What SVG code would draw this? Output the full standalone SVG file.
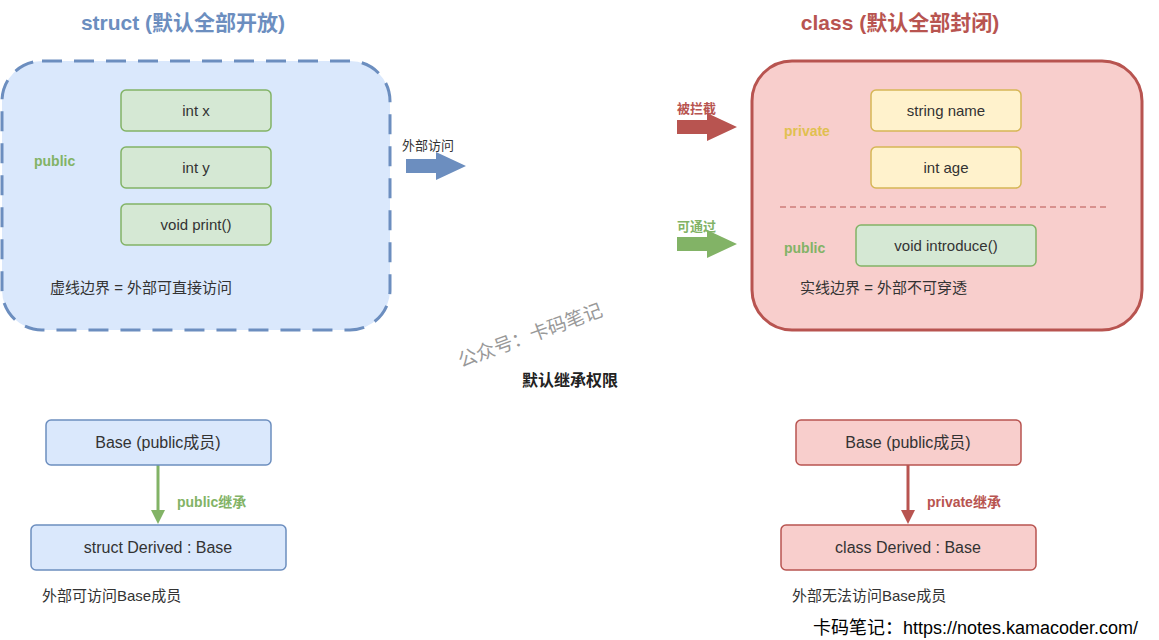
<svg xmlns="http://www.w3.org/2000/svg" width="1159" height="640" viewBox="0 0 1159 640">
<style>
text{font-family:"Liberation Sans","Noto Sans CJK SC",sans-serif;font-size:14px;fill:#333}
.c{text-anchor:middle}
.b{font-weight:bold}
.g{fill:#82b366}.r{fill:#b85450}.y{fill:#e0c050}
.nb{fill:#dae8fc;stroke:#6c8ebf;stroke-width:1.5}
.nr{fill:#f8cecc;stroke:#b85450;stroke-width:1.5}
.ng{fill:#d5e8d4;stroke:#82b366;stroke-width:1.5}
.ny{fill:#fff2cc;stroke:#d6b656;stroke-width:1.5}
.n{font-size:15px}
</style>
<rect width="1159" height="640" fill="#fff"/>
<text class="c b" x="183" y="30" style="font-size:21px;fill:#6c8ebf">struct (默认全部开放)</text>
<text class="c b" x="900" y="30" style="font-size:21px;fill:#b85450">class (默认全部封闭)</text>
<g id="structBox">
<rect x="2" y="61" width="388" height="269" rx="40" fill="#dae8fc" stroke="#6c8ebf" stroke-width="3" stroke-dasharray="20 12"/>
<text class="b g" x="34" y="166">public</text>
<text class="n" x="50" y="293">虚线边界 = 外部可直接访问</text>
</g>
<g id="intx"><rect class="ng" x="121" y="90" width="150" height="41" rx="5"/><text class="c n" x="196" y="116">int x</text></g>
<g id="inty"><rect class="ng" x="121" y="147" width="150" height="41" rx="5"/><text class="c n" x="196" y="173">int y</text></g>
<g id="print"><rect class="ng" x="121" y="204" width="150" height="41" rx="5"/><text class="c n" x="196" y="230">void print()</text></g>
<g id="classBox">
<rect x="752" y="61" width="390" height="269" rx="40" fill="#f8cecc" stroke="#b85450" stroke-width="3"/>
<line x1="780" y1="207" x2="1110" y2="207" stroke="#b85450" stroke-dasharray="6 4"/>
<text class="b y" x="784" y="136">private</text>
<text class="b g" x="784" y="253">public</text>
<text class="n" x="800" y="293">实线边界 = 外部不可穿透</text>
</g>
<g id="name"><rect class="ny" x="871" y="90" width="150" height="41" rx="5"/><text class="c n" x="946" y="116">string name</text></g>
<g id="age"><rect class="ny" x="871" y="147" width="150" height="41" rx="5"/><text class="c n" x="946" y="173">int age</text></g>
<g id="introduce"><rect class="ng" x="856" y="225" width="180" height="41" rx="5"/><text class="c n" x="946" y="251">void introduce()</text></g>
<g id="connectors">
<polygon points="406,159 436,159 436,152 466,166 436,180 436,173 406,173" fill="#6c8ebf"/>
<polygon points="677,120 707,120 707,113 737,127 707,141 707,134 677,134" fill="#b85450"/>
<polygon points="677,237 707,237 707,230 737,244 707,258 707,251 677,251" fill="#82b366"/>
<line x1="158" y1="465" x2="158" y2="512" stroke="#82b366" stroke-width="3"/>
<polygon points="151,510 165,510 158,524" fill="#82b366"/>
<line x1="908" y1="465" x2="908" y2="512" stroke="#b85450" stroke-width="3"/>
<polygon points="901,510 915,510 908,524" fill="#b85450"/>
</g>
<text x="402" y="150" style="font-size:13px">外部访问</text>
<text class="b r" x="677" y="113" style="font-size:13px">被拦截</text>
<text class="b g" x="677" y="231" style="font-size:13px">可通过</text>
<text class="c" x="530" y="342" transform="rotate(-20 530 335)" style="font-size:19px;fill:#999">公众号：卡码笔记</text>
<text class="c b" x="570" y="386" style="font-size:16px;fill:#222">默认继承权限</text>
<g id="baseL"><rect class="nb" x="46" y="420" width="225" height="45" rx="5"/><text class="c" x="158" y="448" style="font-size:16px">Base (public成员)</text></g>
<g id="derivedL"><rect class="nb" x="31" y="525" width="255" height="45" rx="5"/><text class="c" x="158" y="553" style="font-size:16px">struct Derived : Base</text></g>
<g id="baseR"><rect class="nr" x="796" y="420" width="225" height="45" rx="5"/><text class="c" x="908" y="448" style="font-size:16px">Base (public成员)</text></g>
<g id="derivedR"><rect class="nr" x="781" y="525" width="255" height="45" rx="5"/><text class="c" x="908" y="553" style="font-size:16px">class Derived : Base</text></g>
<text class="b g" x="177" y="507">public继承</text>
<text class="b r" x="927" y="507">private继承</text>
<text class="n" x="42" y="601">外部可访问Base成员</text>
<text class="n" x="792" y="601">外部无法访问Base成员</text>
<text x="813" y="634" style="font-size:18px;fill:#000">卡码笔记：https://notes.kamacoder.com/</text>
</svg>
